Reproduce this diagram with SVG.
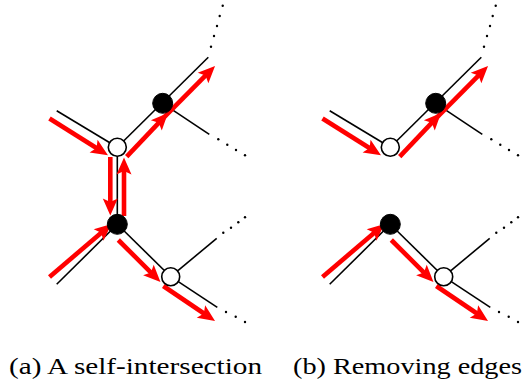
<svg xmlns="http://www.w3.org/2000/svg" width="524" height="388" viewBox="0 0 524 388">
<defs>
<style>
.edge{stroke:#000;stroke-width:1.6;fill:none;stroke-linecap:butt}
.path{stroke:#ff0000;stroke-width:4.6;fill:none;marker-end:url(#ah)}
.wn{fill:#fff;stroke:#000;stroke-width:1.6}
.bn{fill:#000;stroke:#000;stroke-width:1}
.dot{fill:#000}
.cap{font-family:"Liberation Serif","Times New Roman",serif;font-size:24px;fill:#000}
</style>
<marker id="ah" markerUnits="userSpaceOnUse" markerWidth="22" markerHeight="22" viewBox="-2 -11 22 22" refX="9" refY="0" orient="auto">
<path d="M17,0 L0,-7.5 L3.5,0 L0,7.5 Z" fill="#ff0000"/>
</marker>
</defs>
<rect width="524" height="388" fill="#fff"/>

<g id="connectors">
  <!-- panel a edges -->
  <line class="edge" x1="56.7" y1="110.7" x2="117.3" y2="147.3"/>
  <line class="edge" x1="117.3" y1="147.3" x2="208.3" y2="57.3"/>
  <line class="edge" x1="162.7" y1="103.3" x2="209.3" y2="134.3"/>
  <line class="edge" x1="117.3" y1="147.3" x2="117.3" y2="224.3"/>
  <line class="edge" x1="56.7" y1="284.3" x2="117.3" y2="224.3"/>
  <line class="edge" x1="117.3" y1="224.3" x2="170.7" y2="276.7"/>
  <line class="edge" x1="170.7" y1="276.7" x2="217.3" y2="307.3"/>
  <line class="edge" x1="170.7" y1="276.7" x2="216.7" y2="238.3"/>
  <!-- panel b edges -->
  <line class="edge" x1="329.7" y1="110.7" x2="390.3" y2="147.3"/>
  <line class="edge" x1="390.3" y1="147.3" x2="481.3" y2="57.3"/>
  <line class="edge" x1="435.7" y1="103.3" x2="482.3" y2="134.3"/>
  <line class="edge" x1="329.7" y1="284.3" x2="390.3" y2="224.3"/>
  <line class="edge" x1="390.3" y1="224.3" x2="443.7" y2="276.7"/>
  <line class="edge" x1="443.7" y1="276.7" x2="490.3" y2="307.3"/>
  <line class="edge" x1="443.7" y1="276.7" x2="489.7" y2="238.3"/>

  <!-- dots panel a -->
  <g class="dot">
    <circle cx="211" cy="46.7" r="1.2"/><circle cx="214" cy="36" r="1.2"/><circle cx="217" cy="26" r="1.2"/><circle cx="219.7" cy="16" r="1.2"/><circle cx="222.7" cy="5.7" r="1.2"/>
    <circle cx="218.3" cy="139.3" r="1.2"/><circle cx="227.3" cy="144.7" r="1.2"/><circle cx="236" cy="150" r="1.2"/><circle cx="245" cy="155.3" r="1.2"/>
    <circle cx="223.3" cy="232.7" r="1.2"/><circle cx="231" cy="227.7" r="1.2"/><circle cx="238.3" cy="222.3" r="1.2"/><circle cx="245" cy="217.3" r="1.2"/>
    <circle cx="226" cy="312" r="1.2"/><circle cx="235.7" cy="316.7" r="1.2"/><circle cx="245" cy="322" r="1.2"/>
  </g>
  <!-- dots panel b -->
  <g class="dot" transform="translate(273,0)">
    <circle cx="211" cy="46.7" r="1.2"/><circle cx="214" cy="36" r="1.2"/><circle cx="217" cy="26" r="1.2"/><circle cx="219.7" cy="16" r="1.2"/><circle cx="222.7" cy="5.7" r="1.2"/>
    <circle cx="218.3" cy="139.3" r="1.2"/><circle cx="227.3" cy="144.7" r="1.2"/><circle cx="236" cy="150" r="1.2"/><circle cx="245" cy="155.3" r="1.2"/>
    <circle cx="223.3" cy="232.7" r="1.2"/><circle cx="231" cy="227.7" r="1.2"/><circle cx="238.3" cy="222.3" r="1.2"/><circle cx="245" cy="217.3" r="1.2"/>
    <circle cx="226" cy="312" r="1.2"/><circle cx="235.7" cy="316.7" r="1.2"/><circle cx="245" cy="322" r="1.2"/>
  </g>

  <!-- red walk panel a -->
  <line class="path" x1="49.5" y1="118.5" x2="101.2" y2="151.0"/>
  <line class="path" x1="126.7" y1="156.7" x2="162.5" y2="118.8"/>
  <line class="path" x1="162.5" y1="118.8" x2="209.4" y2="71.7"/>
  <line class="path" x1="110.3" y1="157" x2="110.3" y2="207.5"/>
  <line class="path" x1="124" y1="216" x2="124" y2="165.5"/>
  <line class="path" x1="49.5" y1="277" x2="105.4" y2="229.2"/>
  <line class="path" x1="118.3" y1="240" x2="154.8" y2="276.4"/>
  <line class="path" x1="163.3" y1="286" x2="208.4" y2="316.5"/>
  <!-- red walk panel b -->
  <line class="path" x1="322.5" y1="118.5" x2="374.2" y2="151.0"/>
  <line class="path" x1="399.7" y1="156.7" x2="435.5" y2="118.8"/>
  <line class="path" x1="435.5" y1="118.8" x2="482.4" y2="71.7"/>
  <line class="path" x1="322.5" y1="277" x2="378.4" y2="229.2"/>
  <line class="path" x1="391.3" y1="240" x2="427.8" y2="276.4"/>
  <line class="path" x1="436.3" y1="286" x2="481.4" y2="316.5"/>
</g>

<g id="a-w1"><circle class="wn" cx="117.3" cy="147.3" r="9"/></g>
<g id="a-b1"><circle class="bn" cx="162.7" cy="103.3" r="10"/></g>
<g id="a-b2"><circle class="bn" cx="117.3" cy="224.3" r="10"/></g>
<g id="a-w2"><circle class="wn" cx="170.7" cy="276.7" r="9"/></g>
<g id="b-w1"><circle class="wn" cx="390.3" cy="147.3" r="9"/></g>
<g id="b-b1"><circle class="bn" cx="435.7" cy="103.3" r="10"/></g>
<g id="b-b2"><circle class="bn" cx="390.3" cy="224.3" r="10"/></g>
<g id="b-w2"><circle class="wn" cx="443.7" cy="276.7" r="9"/></g>

<g id="captions">
  <text class="cap" x="9" y="374" textLength="253" lengthAdjust="spacingAndGlyphs">(a) A self-intersection</text>
  <text class="cap" x="293" y="374" textLength="229" lengthAdjust="spacingAndGlyphs">(b) Removing edges</text>
</g>
</svg>
